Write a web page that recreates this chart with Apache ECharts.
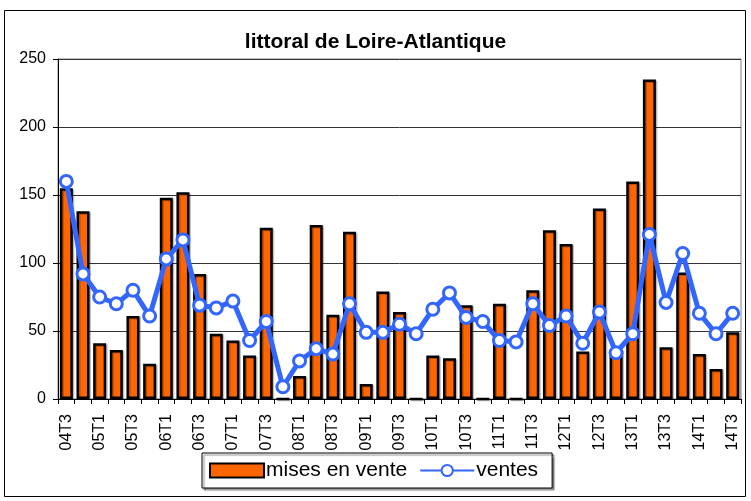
<!DOCTYPE html>
<html>
<head>
<meta charset="utf-8">
<script src="https://cdn.jsdelivr.net/npm/echarts@6/dist/echarts.min.js"></script>
<style>
  html, body { margin: 0; padding: 0; background: #fff; }
  #chart { width: 751px; height: 501px; }
</style>
</head>
<body>
<div id="chart"></div>
<script>
// Quarters (year + trimestre)
const quarters = [
  '04T3','04T4',
  '05T1','05T2','05T3','05T4',
  '06T1','06T2','06T3','06T4',
  '07T1','07T2','07T3','07T4',
  '08T1','08T2','08T3','08T4',
  '09T1','09T2','09T3','09T4',
  '10T1','10T2','10T3','10T4',
  '11T1','11T2','11T3','11T4',
  '12T1','12T2','12T3','12T4',
  '13T1','13T2','13T3','13T4',
  '14T1','14T2','14T3'
];

// Mises en vente par trimestre
const misesEnVente = [
  155, 138,
  41, 36, 61, 26,
  148, 152, 92, 48,
  43, 32, 126, 0,
  17, 128, 62, 123,
  11, 79, 64, 0,
  32, 30, 69, 0,
  70, 0, 80, 124,
  114, 35, 140, 36,
  160, 235, 38, 93,
  33, 22, 49
];

// Ventes par trimestre
const ventes = [
  160, 92,
  75, 70, 80, 61,
  103, 117, 69, 67,
  72, 43, 57, 9,
  28, 37, 33, 70,
  49, 49, 55, 48,
  66, 78, 60, 57,
  43, 42, 70, 54,
  61, 41, 64, 34,
  48, 121, 71, 107,
  63, 48, 63
];

const yTicks = { min: 0, max: 250, interval: 50 };

const FONT = 'Arial, "Liberation Sans", sans-serif';

const chart = echarts.init(document.getElementById('chart'), null, { renderer: 'canvas' });

chart.setOption({
  backgroundColor: '#ffffff',
  animation: false,
  title: {
    text: 'littoral de Loire-Atlantique',
    left: 'center',
    top: 27,
    textStyle: { fontFamily: FONT, fontSize: 21, fontWeight: 'bold', color: '#000' }
  },
  graphic: [{
    type: 'rect',
    shape: { x: 4.5, y: 10.5, width: 741, height: 486 },
    style: { fill: 'none', stroke: '#000', lineWidth: 1 },
    z: -1
  }],
  legend: {
    left: 202,
    top: 453,
    orient: 'horizontal',
    padding: [7, 14, 7, 7],
    itemGap: 12,
    itemWidth: 54,
    itemHeight: 14,
    backgroundColor: '#fff',
    borderColor: '#000',
    borderWidth: 1,
    borderRadius: 0,
    shadowColor: 'rgba(0,0,0,0.45)',
    shadowOffsetX: 2,
    shadowOffsetY: 2,
    shadowBlur: 1,
    textStyle: { fontFamily: FONT, fontSize: 21, color: '#000', padding: [0, 0, 0, -3] },
    data: [
      { name: 'mises en vente', icon: 'rect' },
      { name: 'ventes' }
    ]
  },
  grid: {
    left: 58,
    right: 10,
    top: 59,
    bottom: 102,
    show: true,
    borderColor: '#808080',
    borderWidth: 1,
    backgroundColor: 'transparent'
  },
  xAxis: {
    type: 'category',
    data: quarters,
    boundaryGap: true,
    axisLine: { show: true, lineStyle: { color: '#000', width: 1 } },
    axisTick: { show: true, interval: 0, length: 5, lineStyle: { color: '#000' } },
    axisLabel: {
      interval: 1,
      rotate: 90,
      margin: 15,
      fontFamily: FONT,
      fontSize: 16,
      color: '#000'
    },
    splitLine: { show: false }
  },
  yAxis: {
    type: 'value',
    min: yTicks.min,
    max: yTicks.max,
    interval: yTicks.interval,
    axisLine: { show: true, lineStyle: { color: '#000', width: 1 } },
    axisTick: { show: true, length: 5, lineStyle: { color: '#000' } },
    axisLabel: { margin: 12, fontFamily: FONT, fontSize: 16, color: '#000' },
    splitLine: { show: true, lineStyle: { color: '#333', width: 1 } }
  },
  series: [
    {
      name: 'mises en vente',
      type: 'bar',
      data: misesEnVente,
      barWidth: '78%',
      itemStyle: {
        color: '#FF6600',
        borderColor: '#000',
        borderWidth: 2.5,
        shadowColor: 'rgba(0,0,0,0.25)',
        shadowOffsetX: 1.5,
        shadowOffsetY: 1
      },
      z: 2
    },
    {
      name: 'ventes',
      type: 'line',
      data: ventes,
      symbol: 'circle',
      symbolSize: 12,
      showSymbol: true,
      showAllSymbol: true,
      lineStyle: { color: '#3366FF', width: 5 },
      itemStyle: { color: '#ffffff', borderColor: '#3366FF', borderWidth: 3 },
      z: 3
    }
  ]
});
</script>
</body>
</html>
